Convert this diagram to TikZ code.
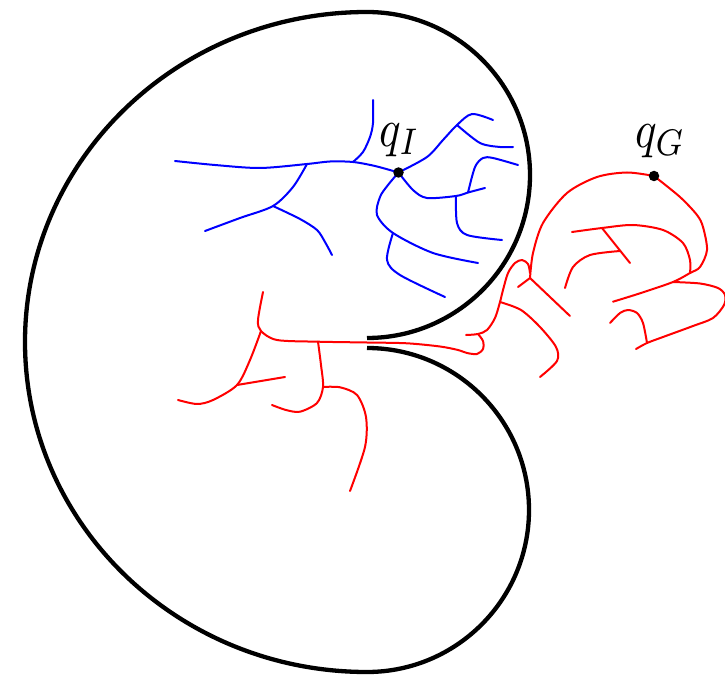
\documentclass[tikz,border=0pt]{standalone}
\usepackage{amsmath}
\usepackage{graphicx}
\usepackage{tikz}
\newcommand{\biglabel}[1]{\scalebox{4.5}[5.3]{$#1$}}
\tikzset{
  every picture/.style={line join=round, line cap=round, x=1pt, y=-1pt},
  wall/.style={line width=4.3pt, black, line cap=butt},
  starttree/.style={line width=2pt, blue},
  goaltree/.style={line width=2pt, red},
  vertex/.style={circle, fill=black, inner sep=0pt, minimum size=10.5pt},
  tag/.style={inner sep=0pt},
}

\begin{document}
\begin{tikzpicture}
\useasboundingbox (0,0) rectangle (725,676);
\draw[wall] (367,338) arc[start angle=90, end angle=-90, radius=163]
  arc[start angle=-90, end angle=-270, x radius=342, y radius=330]
  arc[start angle=90, end angle=-90, radius=162];
\coordinate (qI) at (398.5,172.5);
\coordinate (qG) at (654,176);
\coordinate (b1) at (353,162);
\coordinate (b2) at (307,164);
\coordinate (b3) at (273,206);
\coordinate (b4) at (457,125);
\coordinate (b5) at (468,192.5);
\coordinate (b6) at (456,196);
\coordinate (b7) at (393,233);
\draw[starttree] plot[smooth] coordinates {(qI) (375,166) (b1) (330,161.5) (b2) (260,168) (215,165) (175,161)};
\draw[starttree] plot[smooth] coordinates {(b1) (363,152) (370,137) (373,123) (373,100)};
\draw[starttree] plot[smooth] coordinates {(b2) (293,187) (b3) (240,218) (205,231)};
\draw[starttree] plot[smooth] coordinates {(b3) (300,219) (317,230) (325,242) (332,255)};
\draw[starttree] plot[smooth] coordinates {(qI) (427,157) (443,140) (b4) (472,114) (493,120)};
\draw[starttree] plot[smooth] coordinates {(b4) (480,143) (500,147) (513,147)};
\draw[starttree] plot[smooth] coordinates {(qI) (413,190) (427,198) (b6) (b5) (485,188)};
\draw[starttree] plot[smooth] coordinates {(b5) (475,167) (483,158) (493,158) (518,165)};
\draw[starttree] plot[smooth] coordinates {(b6) (457,223) (467,235) (502,240)};
\draw[starttree] plot[smooth] coordinates {(qI) (388,185) (380,197) (377,215) (b7) (433,253) (478,263)};
\draw[starttree] plot[smooth] coordinates {(b7) (387,260) (400,275) (445,297)};
\coordinate (r1) at (530,278);
\coordinate (r2) at (500,302);
\coordinate (r3) at (478,334);
\coordinate (r4) at (673,282);
\coordinate (r5) at (690,273);
\coordinate (r6) at (602,228);
\coordinate (r7) at (620,251);
\coordinate (r8) at (647,343);
\coordinate (l1) at (261,331);
\coordinate (l2) at (237,385);
\coordinate (l3) at (318,341.7);
\coordinate (l4) at (323,387);
\draw[goaltree] plot[smooth] coordinates {(qG) (627,172.5) (597,177) (567,193) (543,223) (533,253) (r1)};
\draw[goaltree] (r1) -- (570,316);
\draw[goaltree] (r1) -- (518,287);
\draw[goaltree] plot[smooth] coordinates {(530,273) (528,264) (522,260) (515,263) (508,273) (503,290) (r2) (495,318) (487,330) (r3) (466,335)};
\draw[goaltree] plot[smooth] coordinates {(r3) (483,341) (483,349) (477,354) (467,353) (458,350) (440,346.5) (407,343.3) (367,342.5) (l3) (277,340) (l1) (258,320) (263,292)};
\draw[goaltree] plot[smooth] coordinates {(r2) (521,310) (540,327) (556,347) (557,361) (540,377)};
\draw[goaltree] plot[smooth] coordinates {(l1) (250,360) (l2) (213,400) (197,404) (178,400)};
\draw[goaltree] (l2) -- (285,377);
\draw[goaltree] plot[smooth] coordinates {(l3) (321,365) (l4) (317,403) (300,411.7) (286,410) (272,405)};
\draw[goaltree] plot[smooth] coordinates {(l4) (340,387.3) (357,395) (366,417) (365,447) (350,491)};
\draw[goaltree] plot[smooth] coordinates {(qG) (680,197) (697,215) (703,227) (707,250) (700,267) (r5) (r4) (640,293.3) (613,301.7)};
\draw[goaltree] plot[smooth] coordinates {(r4) (700,283.5) (718,288) (725,295) (724,305) (713,318) (693,326) (663,337) (r8) (636,349)};
\draw[goaltree] plot[smooth] coordinates {(r8) (643,323) (637,313) (628,310) (620,313) (610,323)};
\draw[goaltree] plot[smooth] coordinates {(r5) (690,260) (683,243) (663,230) (633,225) (r6) (572,232)};
\draw[goaltree] (r6) -- (630,263);
\draw[goaltree] plot[smooth] coordinates {(565,288) (573,267) (590,255) (r7)};
\node[vertex] (qIdot) at (qI) {};
\node[vertex] (qGdot) at (qG) {};
\node[tag, anchor=base west] (qIlbl) at (379,146.5) {\biglabel{q_I}};
\node[tag, anchor=base west] (qGlbl) at (635,148) {\biglabel{q_G}};
\end{tikzpicture}
\end{document}
